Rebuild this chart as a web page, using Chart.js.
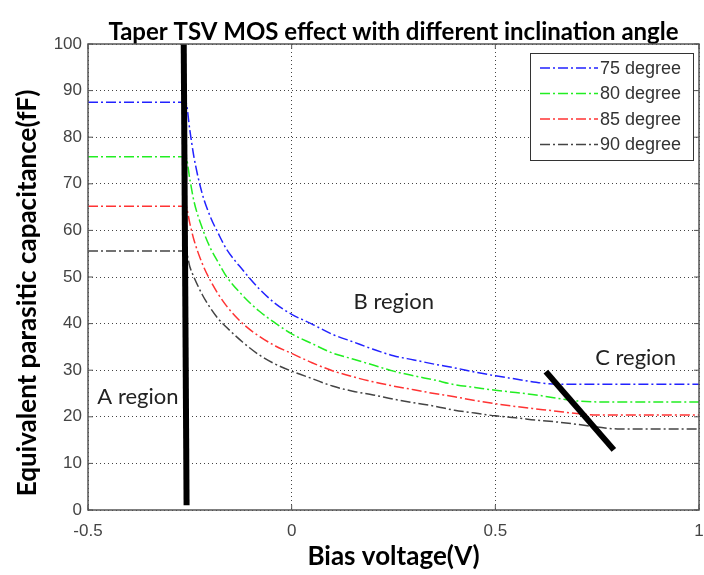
<!DOCTYPE html>
<html>
<head>
<meta charset="utf-8">
<script src="https://cdn.jsdelivr.net/npm/chart.js@4.4.1/dist/chart.umd.min.js"></script>
<style>
	body{margin:0;background:#fff;}
	canvas{display:block;}
</style>
</head>
<body>
<canvas id="chartCanvas" width="704" height="575"></canvas>
<script>
// bias voltage (V), shared by all four curves
var voltage = [-0.5, -0.26, -0.25, -0.24, -0.22, -0.2, -0.18, -0.16, -0.12, -0.08, -0.04, 0,
	0.05, 0.1, 0.15, 0.2, 0.25, 0.3, 0.35, 0.4, 0.45, 0.5, 0.55, 0.6, 0.65, 0.7, 0.75, 0.8, 0.9, 1];
// capacitance (fF) per inclination angle
var cap75 = [87.5, 87.5, 81.5, 75.8, 68, 63, 59.3, 56, 51.5, 47.5, 44.3, 42,
	39.9, 37.7, 36.1, 34.5, 33.1, 32.2, 31.3, 30.5, 29.6, 28.8, 28.1, 27.4, 27, 27, 27, 27, 27, 27];
var cap80 = [75.8, 75.8, 71, 66.3, 60.6, 56.3, 53.1, 50.1, 46, 42.7, 40.1, 37.8,
	35.7, 33.7, 32.4, 31.1, 29.8, 28.8, 27.9, 26.9, 26.3, 25.7, 25.2, 24.7, 24, 23.4, 23.2, 23.2, 23.2, 23.2];
var cap85 = [65.2, 65.2, 61.5, 58, 53, 49.3, 46.3, 43.8, 40, 37.3, 35.2, 33.6,
	31.6, 29.9, 28.6, 27.5, 26.6, 25.8, 25, 24.3, 23.5, 22.8, 22.2, 21.7, 21.2, 20.7, 20.4, 20.4, 20.4, 20.4];
var cap90 = [55.6, 55.6, 52.2, 50, 46.3, 43.4, 41, 39.2, 36, 33.3, 31.3, 29.8,
	28.2, 26.6, 25.5, 24.7, 23.8, 23, 22.3, 21.4, 20.8, 20.2, 19.8, 19.3, 18.9, 18.4, 17.8, 17.4, 17.4, 17.4];
var seriesLabels = ["75 degree", "80 degree", "85 degree", "90 degree"];
var seriesColors = ["#2222ff", "#22ee22", "#ff3333", "#444444"];

// hand drawn region dividers
var dividerAX = [-0.265, -0.258];
var dividerAY = [100, 1];
var dividerCX = [0.624, 0.791];
var dividerCY = [29.7, 12.9];

var regionLabels = ["A region", "B region", "C region"];
var regionX = [-0.477, 0.152, 0.745];
var regionY = [24.3, 44.6, 32.6];

var xTicks = [-0.5, 0, 0.5, 1];

function points(xs, ys){
	return xs.map(function(v, i){ return {x: v, y: ys[i]}; });
}

var datasets = [];
[cap75, cap80, cap85, cap90].forEach(function(c, i){
	datasets.push({
		label: seriesLabels[i],
		data: points(voltage, c),
		borderColor: seriesColors[i],
		borderWidth: 1.5,
		borderDash: [10, 3, 2, 3],
		pointRadius: 0,
		cubicInterpolationMode: "monotone",
		order: 2
	});
});
[[dividerAX, dividerAY], [dividerCX, dividerCY]].forEach(function(d){
	datasets.push({
		data: points(d[0], d[1]),
		borderColor: "#000",
		borderWidth: 6,
		pointRadius: 0,
		order: 1
	});
});

var extras = {
	id: "extras",
	afterDraw: function(chart){
		var ctx = chart.ctx;
		var a = chart.chartArea;
		var xs = chart.scales.x, ys = chart.scales.y;
		ctx.save();

		// title
		ctx.fillStyle = "#000";
		ctx.font = "bold 24px Lato";
		ctx.textAlign = "center";
		ctx.textBaseline = "alphabetic";
		ctx.fillText("Taper TSV MOS effect with different inclination angle", (a.left + a.right) / 2, 40);

		// y axis title
		ctx.save();
		ctx.translate(28, 293);
		ctx.rotate(-Math.PI / 2);
		ctx.font = "bold 26px Lato";
		ctx.textBaseline = "middle";
		ctx.fillText("Equivalent parasitic capacitance(fF)", 0, 0);
		ctx.restore();

		// axes box and inward ticks
		ctx.strokeStyle = "#555";
		ctx.lineWidth = 1.5;
		ctx.strokeRect(a.left, a.top, a.right - a.left, a.bottom - a.top);
		ctx.lineWidth = 1;
		ctx.beginPath();
		xTicks.forEach(function(v){
			var px = xs.getPixelForValue(v);
			ctx.moveTo(px, a.top); ctx.lineTo(px, a.top + 5);
			ctx.moveTo(px, a.bottom); ctx.lineTo(px, a.bottom - 5);
		});
		for (var v = 0; v <= 100; v += 10){
			var py = ys.getPixelForValue(v);
			ctx.moveTo(a.left, py); ctx.lineTo(a.left + 5, py);
			ctx.moveTo(a.right, py); ctx.lineTo(a.right - 5, py);
		}
		ctx.stroke();

		// region labels
		ctx.fillStyle = "#222";
		ctx.font = "22px Lato";
		ctx.textAlign = "left";
		ctx.textBaseline = "middle";
		regionLabels.forEach(function(t, i){
			ctx.fillText(t, xs.getPixelForValue(regionX[i]), ys.getPixelForValue(regionY[i]));
		});

		// legend
		ctx.fillStyle = "#fff";
		ctx.fillRect(530, 53, 163, 107);
		ctx.strokeStyle = "#333";
		ctx.lineWidth = 1;
		ctx.strokeRect(530.5, 53.5, 163, 107);
		ctx.font = "18px 'Liberation Sans'";
		for (var i = 0; i < 4; i++){
			var y = 68 + i * 25.5;
			ctx.strokeStyle = seriesColors[i];
			ctx.lineWidth = 1.5;
			ctx.setLineDash([10, 3, 2, 3]);
			ctx.beginPath();
			ctx.moveTo(540, y); ctx.lineTo(598, y);
			ctx.stroke();
			ctx.setLineDash([]);
			ctx.fillStyle = "#333";
			ctx.fillText(seriesLabels[i], 600, y + 1);
		}
		ctx.restore();
	}
};

new Chart(document.getElementById("chartCanvas"), {
	type: "line",
	data: {datasets: datasets},
	options: {
		responsive: false,
		animation: false,
		layout: {padding: {top: 44, right: 5, left: 0, bottom: 0}},
		scales: {
			x: {
				type: "linear",
				min: -0.5,
				max: 1,
				afterBuildTicks: function(s){ s.ticks = xTicks.map(function(v){ return {value: v}; }); },
				afterFit: function(s){ s.height = 65; s.paddingLeft = 0; s.paddingRight = 0; },
				ticks: {color: "#444", font: {family: "Liberation Sans", size: 17}, padding: 11,
					maxRotation: 0, autoSkip: false,
					callback: function(v){ return String(v); }},
				grid: {color: "#444", lineWidth: 1, drawTicks: false},
				border: {display: false, dash: [1, 3]},
				title: {display: true, text: "Bias voltage(V)", color: "#000",
					font: {family: "Lato", size: 26, weight: "bold"}, padding: {top: 0, bottom: 3}}
			},
			y: {
				min: 0,
				max: 100,
				afterFit: function(s){ s.width = 88; s.paddingTop = 0; s.paddingBottom = 0; },
				ticks: {stepSize: 10, color: "#444", font: {family: "Liberation Sans", size: 17}, padding: 6},
				grid: {color: "#444", lineWidth: 1, drawTicks: false},
				border: {display: false, dash: [1, 3]}
			}
		},
		plugins: {
			legend: {display: false},
			tooltip: {enabled: false},
			title: {display: false}
		}
	},
	plugins: [extras]
});
</script>
</body>
</html>
